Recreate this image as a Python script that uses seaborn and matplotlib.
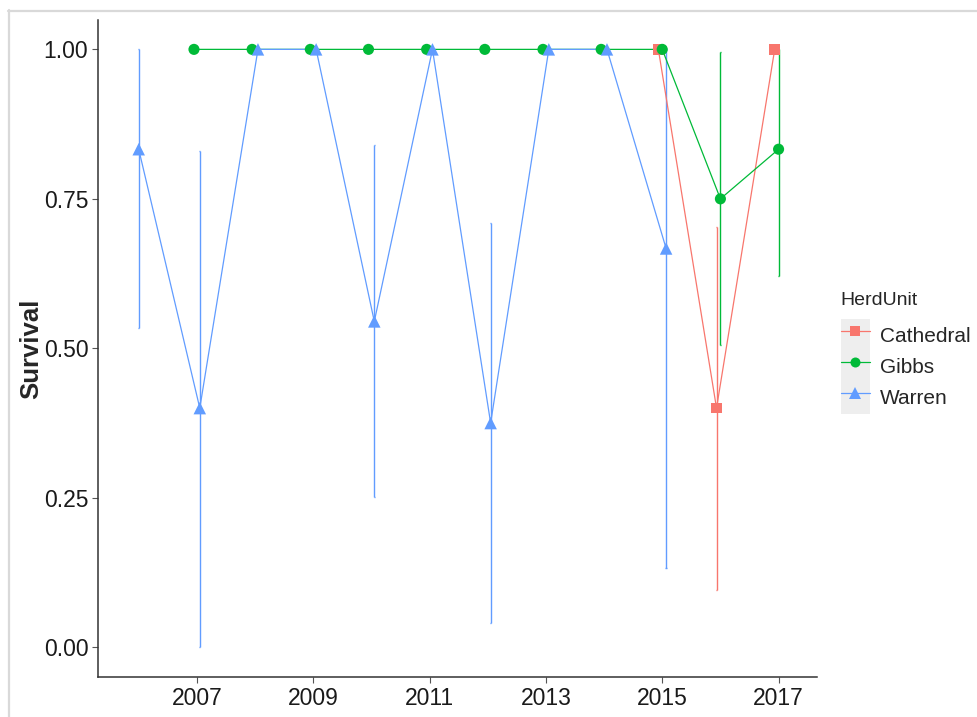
import numpy as np
import pandas as pd
import matplotlib
matplotlib.use("Agg")
import matplotlib.pyplot as plt
import seaborn as sns
from matplotlib.legend_handler import HandlerLine2D
from matplotlib.patches import Rectangle
from matplotlib.lines import Line2D

# ---------- DATA ----------
herds = ["Cathedral", "Gibbs", "Warren"]

cath_years = [2015, 2016, 2017]
cath_surv = [1.0, 0.40, 1.0]
cath_lo = [1.0, 0.096, 1.0]
cath_hi = [1.0, 0.703, 1.0]

gibbs_years = [2007, 2008, 2009, 2010, 2011, 2012, 2013, 2014, 2015, 2016, 2017]
gibbs_surv = [1.0, 1.0, 1.0, 1.0, 1.0, 1.0, 1.0, 1.0, 1.0, 0.75, 0.833]
gibbs_lo = [1.0, 1.0, 1.0, 1.0, 1.0, 1.0, 1.0, 1.0, 1.0, 0.505, 0.621]
gibbs_hi = [1.0, 1.0, 1.0, 1.0, 1.0, 1.0, 1.0, 1.0, 1.0, 0.995, 1.0]

warren_years = [2006, 2007, 2008, 2009, 2010, 2011, 2012, 2013, 2014, 2015, 2016, 2017]
warren_surv = [0.833, 0.40, 1.0, 1.0, 0.545, 1.0, 0.375, 1.0, 1.0, 0.667, np.nan, np.nan]
warren_lo = [0.534, 0.0, 1.0, 1.0, 0.251, 1.0, 0.040, 1.0, 1.0, 0.132, np.nan, np.nan]
warren_hi = [1.0, 0.830, 1.0, 1.0, 0.840, 1.0, 0.710, 1.0, 1.0, 1.0, np.nan, np.nan]

year_ticks = [2007, 2009, 2011, 2013, 2015, 2017]
surv_ticks = [0.0, 0.25, 0.50, 0.75, 1.00]

palette = {"Cathedral": "#F8766D", "Gibbs": "#00BA38", "Warren": "#619CFF"}
markers = {"Cathedral": "s", "Gibbs": "o", "Warren": "^"}
msize = {"Cathedral": 7.5, "Gibbs": 8, "Warren": 9}

# ---------- 1. BUILD LONG TABLE ----------
parts = []
for name, yrs, s, lo, hi in [("Cathedral", cath_years, cath_surv, cath_lo, cath_hi),
                             ("Gibbs", gibbs_years, gibbs_surv, gibbs_lo, gibbs_hi),
                             ("Warren", warren_years, warren_surv, warren_lo, warren_hi)]:
    parts.append(pd.DataFrame({"HerdUnit": name, "Year": yrs, "Survival": s, "lo": lo, "hi": hi}))
df = pd.concat(parts, ignore_index=True)

# ---------- 2. DODGE (like position_dodge(0.2)) ----------
w = 0.2
df["order"] = df["HerdUnit"].map({h: i for i, h in enumerate(herds)})
df = df.sort_values(["Year", "order"]).reset_index(drop=True)
df["n"] = df.groupby("Year")["HerdUnit"].transform("count")
df["i"] = df.groupby("Year").cumcount()
df["x"] = df["Year"] - w / 2 + w / (2 * df["n"]) + df["i"] * w / df["n"]

# ---------- 3. PLOT ----------
sns.set_style("ticks")
plt.rcParams["font.family"] = ["Liberation Sans", "DejaVu Sans"]

fig = plt.figure(figsize=(9.77, 7.17), dpi=100)
ax = fig.add_axes([0.1003, 0.0558, 0.7359, 0.9162])

for h in herds:
    sub = df[df["HerdUnit"] == h].dropna(subset=["Survival"])
    ax.vlines(sub["x"], sub["lo"], sub["hi"], color=palette[h], lw=1.0, zorder=2)
    ax.hlines(sub["lo"], sub["x"] - 0.012, sub["x"] + 0.012, color=palette[h], lw=1.0, zorder=2)
    ax.hlines(sub["hi"], sub["x"] - 0.012, sub["x"] + 0.012, color=palette[h], lw=1.0, zorder=2)

sns.lineplot(data=df.dropna(subset=["Survival"]), x="x", y="Survival", hue="HerdUnit",
             hue_order=herds, palette=palette, estimator=None, errorbar=None,
             sort=True, lw=0.9, legend=False, ax=ax, zorder=3)
for h in herds:
    sub = df[df["HerdUnit"] == h].dropna(subset=["Survival"])
    sns.scatterplot(data=sub, x="x", y="Survival", color=palette[h], marker=markers[h],
                    s=msize[h] ** 2, edgecolor="none", linewidth=0, legend=False, ax=ax, zorder=4)

ax.set_xlim(2005.30, 2017.66)
ax.set_ylim(-0.0497, 1.049)
ax.set_xticks(year_ticks)
ax.set_xticklabels([str(y) for y in year_ticks])
ax.set_yticks(surv_ticks)
ax.set_yticklabels([f"{v:.2f}" for v in surv_ticks])
ax.tick_params(axis="both", labelsize=16.5, labelcolor="#1a1a1a", color="#555555",
               length=4, width=0.8, pad=3)
ax.set_xlabel("")
ax.set_ylabel("Survival", fontsize=18.5, fontweight="bold", labelpad=0)
for sp in ["top", "right"]:
    ax.spines[sp].set_visible(False)
for sp in ["left", "bottom"]:
    ax.spines[sp].set_color("#333333")
    ax.spines[sp].set_linewidth(1.1)


# ---------- 4. LEGEND WITH GREY KEYS ----------
class KeyBG(HandlerLine2D):
    def create_artists(self, legend, orig_handle, xdescent, ydescent, width, height, fontsize, trans):
        arts = super().create_artists(legend, orig_handle, xdescent, ydescent, width, height, fontsize, trans)
        bg = Rectangle((-xdescent, -ydescent - 1), width, height + 2, transform=trans,
                       facecolor="#EEEEEE", edgecolor="none")
        return [bg] + list(arts)


handles = [Line2D([], [], color=palette[h], marker=markers[h], markersize=msize[h] * 0.9,
                  lw=0.9, markeredgewidth=0) for h in herds]
leg = fig.legend(handles, herds, title="HerdUnit", loc="upper left",
                 bbox_to_anchor=(0.852, 0.604), frameon=False, fontsize=15,
                 title_fontsize=14, handlelength=1.4, handleheight=1.9,
                 labelspacing=0.0, handletextpad=0.5, borderaxespad=0,
                 handler_map={Line2D: KeyBG()})
leg._legend_box.align = "left"
leg._legend_box.sep = 8

# screenshot frame
fig.add_artist(Line2D([8.5 / 977, 8.5 / 977], [0, 1 - 10 / 717], transform=fig.transFigure,
                      color="#D9D9D9", lw=1.6))
fig.add_artist(Line2D([8 / 977, 1], [1 - 10.5 / 717, 1 - 10.5 / 717], transform=fig.transFigure,
                      color="#D9D9D9", lw=1.6))

fig.savefig("out.png", dpi=100)
